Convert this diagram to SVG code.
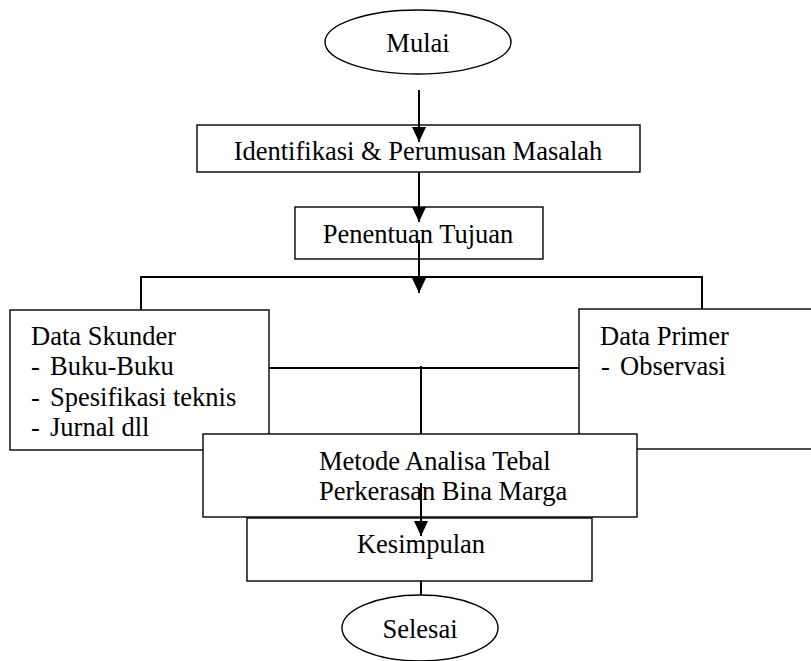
<svg xmlns="http://www.w3.org/2000/svg" width="811" height="661" viewBox="0 0 811 661">
<defs>
<style>
.box{fill:#fff;stroke:#000;stroke-width:1.4}
.t{font-family:"Liberation Serif","Times New Roman",serif;font-size:26.5px;fill:#000}
.c{text-anchor:middle}
.ln{fill:none;stroke:#000;stroke-width:2}
</style>
<marker id="ah" viewBox="0 0 15 14" refX="15" refY="7" markerWidth="15" markerHeight="14" markerUnits="userSpaceOnUse" orient="auto">
<path d="M0,0 L15,7 L0,14 Z" fill="#000"/>
</marker>
</defs>
<rect width="811" height="661" fill="#fff"/>
<g id="mulai">
<ellipse class="box" cx="418" cy="42" rx="93" ry="32"/>
<text class="t c" x="418" y="52">Mulai</text>
</g>
<g id="identifikasi">
<rect class="box" x="197" y="125" width="443" height="47"/>
<text class="t c" x="418" y="160">Identifikasi &amp; Perumusan Masalah</text>
</g>
<g id="penentuan">
<rect class="box" x="295" y="207" width="248" height="52"/>
<text class="t c" x="418" y="243">Penentuan Tujuan</text>
</g>
<g id="data-skunder">
<rect class="box" x="10" y="310" width="259" height="140"/>
<text class="t" x="31" y="345">Data Skunder</text>
<text class="t" x="31" y="375">-<tspan x="50">Buku-Buku</tspan></text>
<text class="t" x="31" y="406">-<tspan x="50">Spesifikasi teknis</tspan></text>
<text class="t" x="31" y="436">-<tspan x="50">Jurnal dll</tspan></text>
</g>
<g id="data-primer">
<rect class="box" x="579" y="309" width="240" height="140"/>
<text class="t" x="600" y="345">Data Primer</text>
<text class="t" x="601" y="375">-<tspan x="620">Observasi</tspan></text>
</g>
<g id="connectors">
<line class="ln" x1="419" y1="90" x2="419" y2="142" marker-end="url(#ah)"/>
<line class="ln" x1="419" y1="172" x2="419" y2="222" marker-end="url(#ah)"/>
<polyline class="ln" points="141,310 141,277 702,277 702,309"/>
<line class="ln" x1="419" y1="240" x2="419" y2="277"/>
<line class="ln" x1="419" y1="277" x2="419" y2="293" marker-end="url(#ah)"/>
<line class="ln" x1="269" y1="368" x2="579" y2="368"/>
<line class="ln" x1="421" y1="366" x2="421" y2="434"/>
<line class="ln" x1="421" y1="563" x2="421" y2="595"/>
</g>
<g id="metode">
<rect class="box" x="203" y="434" width="434" height="83"/>
<text class="t" x="319" y="470">Metode Analisa Tebal</text>
<text class="t" x="319" y="500">Perkerasan Bina Marga</text>
</g>
<g id="kesimpulan">
<rect class="box" x="247" y="518" width="345" height="63"/>
<text class="t c" x="421" y="553">Kesimpulan</text>
</g>
<g id="connectors-2">
<line class="ln" x1="421" y1="483" x2="421" y2="536" marker-end="url(#ah)"/>
</g>
<g id="selesai">
<ellipse class="box" cx="420" cy="628" rx="78" ry="33"/>
<text class="t c" x="420" y="638">Selesai</text>
</g>
</svg>
